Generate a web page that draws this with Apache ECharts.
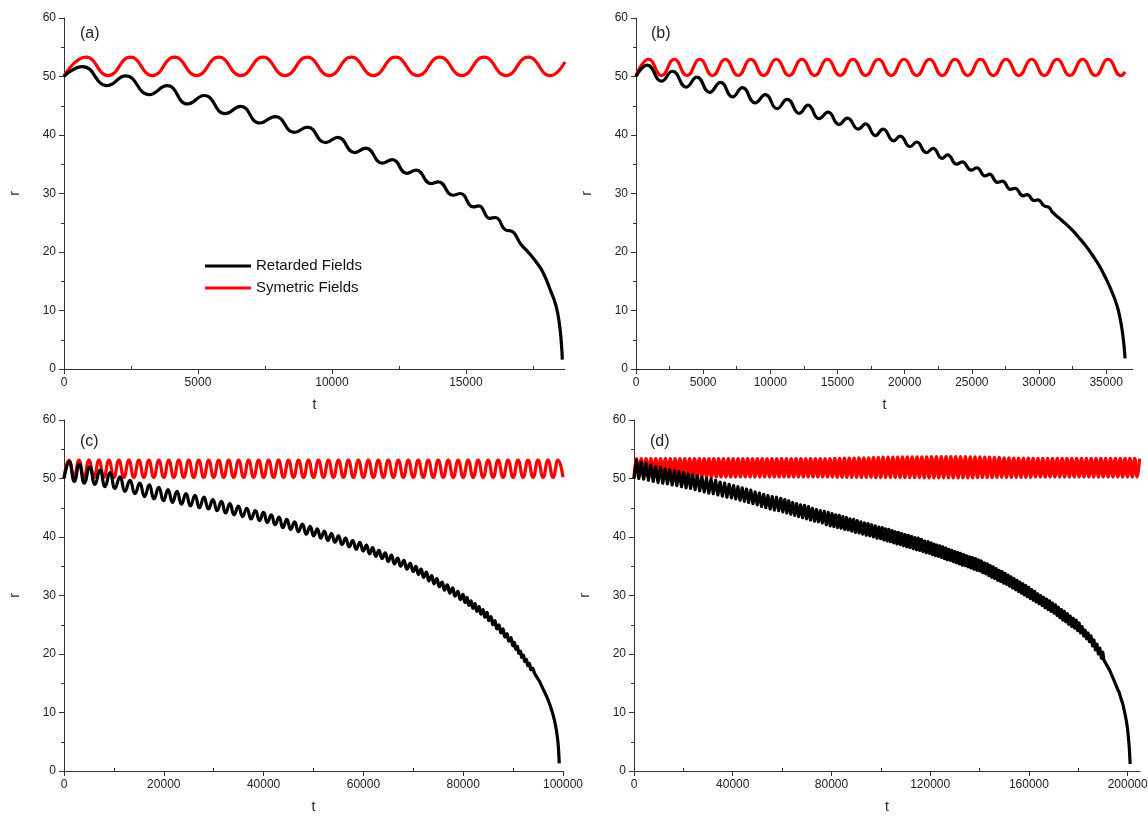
<!DOCTYPE html>
<html><head><meta charset="utf-8">
<script src="https://cdn.jsdelivr.net/npm/echarts@6/dist/echarts.min.js"></script>
<style>html,body{margin:0;padding:0;background:#fff}#chart{width:1148px;height:825px}</style>
</head><body><div id="chart"></div>
<script>
// ---------- data ----------
const seriesNames = ['Retarded Fields', 'Symetric Fields'];
const panelLabels = ['(a)', '(b)', '(c)', '(d)'];
const xMax = [18700, 37000, 100000, 205000];
const xMajor = [
  [0, 5000, 10000, 15000],
  [0, 5000, 10000, 15000, 20000, 25000, 30000, 35000],
  [0, 20000, 40000, 60000, 80000, 100000],
  [0, 40000, 80000, 120000, 160000, 200000]
];
const xMinor = [
  [2500, 7500, 12500, 17500],
  [2500, 7500, 12500, 17500, 22500, 27500, 32500],
  [10000, 30000, 50000, 70000, 90000],
  [20000, 60000, 100000, 140000, 180000]
];
const yTicks = [0, 10, 20, 30, 40, 50, 60];

// panel (a)
const redA = [[0,50.1],[825,53.3],[1650,50.15],[2475,53.3],[3300,50.15],[4125,53.3],[4950,50.15],[5775,53.3],[6600,50.15],[7425,53.3],[8250,50.15],[9075,53.3],[9900,50.15],[10725,53.3],[11550,50.15],[12375,53.3],[13200,50.15],[14025,53.3],[14850,50.15],[15675,53.3],[16500,50.15],[17325,53.3],[18150,50.15],[18700,52.5]];
const blackA = [[0,50.0],[690,51.7],[1620,48.45],[2300,50.1],[3180,46.9],[3850,48.45],[4610,45.3],[5230,46.75],[6020,43.65],[6590,44.9],[7300,42.05],[7890,43.15],[8600,40.45],[9085,41.35],[9760,38.7],[10220,39.6],[10850,37.0],[11265,37.75],[11880,35.2],[12250,35.8],[12800,33.45],[13145,34.0],[13695,31.7],[13970,32.0],[14520,29.7],[14795,30.0],[15275,27.7],[15480,27.9],[15895,25.75],[16100,25.9],[16510,23.7],[16690,23.6],[17060,21.3],[17340,19.9],[17640,18.2],[17880,16.5],[18160,13.4],[18365,10.8],[18500,7.4],[18570,4.0],[18600,1.6]];

// panel (b)
const redB = [[0,50.1],[950,52.95],[1900,50.15],[2850,52.95],[3800,50.15],[4750,52.95],[5700,50.15],[6650,52.95],[7600,50.15],[8550,52.95],[9500,50.15],[10450,52.95],[11400,50.15],[12350,52.95],[13300,50.15],[14250,52.95],[15200,50.15],[16150,52.95],[17100,50.15],[18050,52.95],[19000,50.15],[19950,52.95],[20900,50.15],[21850,52.95],[22800,50.15],[23750,52.95],[24700,50.15],[25650,52.95],[26600,50.15],[27550,52.95],[28500,50.15],[29450,52.95],[30400,50.15],[31350,52.95],[32300,50.15],[33250,52.95],[34200,50.15],[35150,52.95],[36100,50.15],[36400,50.8]];
const blackB = [[0,50.0],[850,51.95],[1900,49.2],[2713,50.9],[3744,48.2],[4530,49.9],[5480,47.3],[6294,49.0],[7190,46.5],[7922,48.1],[8871,45.5],[9631,46.9],[10499,44.5],[11259,46.1],[12154,43.7],[12805,45.1],[13619,42.8],[14297,43.9],[15111,41.8],[15735,42.9],[16549,41.0],[17092,41.9],[17824,39.9],[18394,41.0],[19181,39.0],[19669,39.8],[20402,38.0],[20890,38.8],[21623,37.0],[22111,37.7],[22789,36.0],[23196,36.6],[23874,35.0],[24281,35.4],[24960,34.0],[25367,34.4],[25990,33.0],[26316,33.3],[26913,31.9],[27266,32.1],[27890,30.7],[28216,30.9],[28813,29.6],[29111,29.8],[29650,28.8],[29900,28.9],[30450,27.8],[30700,27.7],[31000,26.8],[31500,25.8],[32000,24.8],[32500,23.7],[33000,22.4],[33500,21.0],[34000,19.4],[34500,17.6],[35000,15.4],[35500,12.8],[35800,10.9],[36000,9.1],[36200,6.5],[36330,4.0],[36409,1.8]];

// panel (c)
const redC = [[0,50.1],[1000,53.15],[2000,50.2],[3000,53.15],[4000,50.2],[5000,53.15],[6000,50.2],[7000,53.15],[8000,50.2],[9000,53.15],[10000,50.2],[11000,53.15],[12000,50.2],[13000,53.15],[14000,50.2],[15000,53.15],[16000,50.2],[17000,53.15],[18000,50.2],[19000,53.15],[20000,50.2],[21000,53.15],[22000,50.2],[23000,53.15],[24000,50.2],[25000,53.15],[26000,50.2],[27000,53.15],[28000,50.2],[29000,53.15],[30000,50.2],[31000,53.15],[32000,50.2],[33000,53.15],[34000,50.2],[35000,53.15],[36000,50.2],[37000,53.15],[38000,50.2],[39000,53.15],[40000,50.2],[41000,53.15],[42000,50.2],[43000,53.15],[44000,50.2],[45000,53.15],[46000,50.2],[47000,53.15],[48000,50.2],[49000,53.15],[50000,50.2],[51000,53.15],[52000,50.2],[53000,53.15],[54000,50.2],[55000,53.15],[56000,50.2],[57000,53.15],[58000,50.2],[59000,53.15],[60000,50.2],[61000,53.15],[62000,50.2],[63000,53.15],[64000,50.2],[65000,53.15],[66000,50.2],[67000,53.15],[68000,50.2],[69000,53.15],[70000,50.2],[71000,53.15],[72000,50.2],[73000,53.15],[74000,50.2],[75000,53.15],[76000,50.2],[77000,53.15],[78000,50.2],[79000,53.15],[80000,50.2],[81000,53.15],[82000,50.2],[83000,53.15],[84000,50.2],[85000,53.15],[86000,50.2],[87000,53.15],[88000,50.2],[89000,53.15],[90000,50.2],[91000,53.15],[92000,50.2],[93000,53.15],[94000,50.2],[95000,53.15],[96000,50.2],[97000,53.15],[98000,50.2],[99000,53.15],[100000,50.2]];
const blackC = [[0,50.0],[1070,52.9],[2070,49.5],[3070,52.5],[4070,49.2],[5150,52.0],[6200,49.0],[7220,51.45],[8220,48.6],[9220,51.0],[10220,48.3],[11220,50.3],[12220,47.8],[13220,49.7],[14220,47.4],[15180,49.2],[16140,46.9],[17090,48.9],[18040,46.5],[18990,48.5],[19940,46.2],[20840,48.1],[21740,45.9],[22640,47.8],[23540,45.6],[24440,47.4],[25340,45.3],[26240,47.1],[27140,45.0],[28040,46.8],[28940,44.8],[29840,46.4],[30690,44.5],[31540,46.1],[32390,44.1],[33240,45.7],[34090,43.8],[34940,45.3],[35790,43.5],[36640,44.9],[37490,43.1],[38340,44.5],[39190,42.8],[39970,44.2],[40750,42.5],[41530,43.8],[42310,42.1],[43090,43.4],[43870,41.6],[44650,43.0],[45430,41.3],[46210,42.6],[46990,40.9],[47770,42.2],[48550,40.5],[49330,41.8],[50040,40.2],[50750,41.4],[51460,39.8],[52170,41.0],[52880,39.4],[53590,40.6],[54300,39.1],[55010,40.2],[55720,38.7],[56430,39.8],[57140,38.3],[57850,39.4],[58560,37.9],[59270,39.1],[59980,37.6],[60605,38.6],[61230,37.1],[61855,38.2],[62480,36.7],[63105,37.7],[63730,36.3],[64355,37.3],[64980,35.8],[65605,36.9],[66230,35.4],[66855,36.4],[67480,35.0],[68105,36.0],[68730,34.5],[69355,35.5],[69980,34.1],[70505,35.0],[71030,33.6],[71555,34.5],[72080,33.1],[72605,34.0],[73130,32.5],[73655,33.4],[74180,32.0],[74705,32.9],[75230,31.5],[75755,32.3],[76280,30.9],[76805,31.8],[77330,30.4],[77855,31.3],[78380,29.9],[78905,30.7],[79430,29.3],[79955,30.2],[80355,28.8],[80755,29.7],[81155,28.3],[81555,29.1],[81955,27.8],[82355,28.6],[82755,27.3],[83155,28.1],[83555,26.8],[83955,27.6],[84355,26.3],[84755,27.1],[85155,25.7],[85555,26.4],[85955,25.0],[86355,25.7],[86755,24.3],[87155,25.0],[87555,23.6],[87955,24.3],[88355,22.9],[88755,23.5],[89155,22.2],[89555,22.8],[89955,21.4],[90255,22.0],[90555,20.8],[90855,21.3],[91155,20.1],[91455,20.5],[91755,19.4],[92055,19.8],[92355,18.7],[92655,19.1],[92955,18.0],[93255,18.4],[93555,17.3],[93855,17.6],[94300,16.7],[94800,16.0],[95300,15.3],[95800,14.4],[96300,13.5],[96800,12.6],[97300,11.5],[97800,10.2],[98300,8.6],[98700,6.8],[99000,4.8],[99150,3.0],[99250,1.3]];

// panel (d)
const redD = [[0,50.1],[980,53.4],[1960,50.25],[2940,53.4],[3920,50.25],[4900,53.4],[5880,50.25],[6860,53.4],[7840,50.25],[8820,53.4],[9800,50.25],[10780,53.4],[11760,50.25],[12740,53.4],[13720,50.25],[14700,53.4],[15680,50.25],[16660,53.4],[17640,50.25],[18620,53.4],[19600,50.25],[20580,53.4],[21560,50.25],[22540,53.4],[23520,50.25],[24500,53.4],[25480,50.25],[26460,53.4],[27440,50.25],[28420,53.4],[29400,50.25],[30380,53.4],[31360,50.25],[32340,53.4],[33320,50.25],[34300,53.4],[35280,50.25],[36260,53.4],[37240,50.25],[38220,53.4],[39200,50.25],[40180,53.4],[41160,50.25],[42140,53.4],[43120,50.25],[44100,53.4],[45080,50.25],[46060,53.4],[47040,50.25],[48020,53.4],[49000,50.25],[49980,53.4],[50960,50.25],[51940,53.4],[52920,50.25],[53900,53.4],[54880,50.25],[55860,53.4],[56840,50.25],[57820,53.4],[58800,50.25],[59780,53.4],[60760,50.25],[61740,53.4],[62720,50.25],[63700,53.4],[64680,50.25],[65660,53.4],[66640,50.25],[67620,53.4],[68600,50.25],[69580,53.4],[70560,50.25],[71540,53.4],[72520,50.25],[73500,53.4],[74480,50.25],[75460,53.4],[76440,50.25],[77420,53.4],[78400,50.25],[79380,53.4],[80360,50.25],[81340,53.45],[82320,50.2],[83300,53.45],[84280,50.2],[85260,53.5],[86240,50.2],[87220,53.5],[88200,50.2],[89180,53.5],[90160,50.2],[91140,53.55],[92120,50.2],[93100,53.55],[94080,50.2],[95060,53.55],[96040,50.2],[97020,53.6],[98000,50.15],[98980,53.6],[99960,50.15],[100940,53.65],[101920,50.15],[102900,53.65],[103880,50.15],[104860,53.65],[105840,50.15],[106820,53.65],[107800,50.15],[108780,53.7],[109760,50.15],[110740,53.7],[111720,50.15],[112700,53.7],[113680,50.15],[114660,53.7],[115640,50.15],[116620,53.7],[117600,50.1],[118580,53.7],[119560,50.1],[120540,53.75],[121520,50.1],[122500,53.75],[123480,50.1],[124460,53.75],[125440,50.1],[126420,53.75],[127400,50.1],[128380,53.75],[129360,50.1],[130340,53.75],[131320,50.1],[132300,53.75],[133280,50.1],[134260,53.75],[135240,50.1],[136220,53.7],[137200,50.1],[138180,53.7],[139160,50.15],[140140,53.7],[141120,50.15],[142100,53.65],[143080,50.15],[144060,53.65],[145040,50.15],[146020,53.6],[147000,50.2],[147980,53.6],[148960,50.2],[149940,53.55],[150920,50.2],[151900,53.55],[152880,50.2],[153860,53.5],[154840,50.2],[155820,53.5],[156800,50.2],[157780,53.5],[158760,50.2],[159740,53.5],[160720,50.2],[161700,53.45],[162680,50.25],[163660,53.45],[164640,50.25],[165620,53.45],[166600,50.25],[167580,53.45],[168560,50.25],[169540,53.45],[170520,50.25],[171500,53.45],[172480,50.25],[173460,53.45],[174440,50.25],[175420,53.45],[176400,50.25],[177380,53.45],[178360,50.25],[179340,53.45],[180320,50.25],[181300,53.45],[182280,50.25],[183260,53.45],[184240,50.25],[185220,53.45],[186200,50.25],[187180,53.45],[188160,50.25],[189140,53.45],[190120,50.25],[191100,53.45],[192080,50.25],[193060,53.45],[194040,50.25],[195020,53.45],[196000,50.25],[196980,53.45],[197960,50.25],[198940,53.45],[199920,50.25],[200900,53.45],[201880,50.25],[202860,53.45],[203840,50.25],[204820,53.4]];
const blackD = [[0,50.0],[975,53.1],[1950,50.0],[2925,52.8],[3900,49.9],[4875,52.6],[5850,49.7],[6825,52.3],[7800,49.5],[8775,52.0],[9750,49.3],[10700,51.9],[11650,49.2],[12600,51.6],[13550,49.1],[14500,51.5],[15450,48.9],[16400,51.3],[17350,48.8],[18300,51.2],[19250,48.6],[20170,51.0],[21090,48.4],[22010,50.8],[22930,48.3],[23850,50.6],[24770,48.1],[25690,50.5],[26610,47.9],[27530,50.2],[28450,47.7],[29370,50.0],[30290,47.5],[31210,49.9],[32130,47.4],[33050,49.7],[33970,47.2],[34890,49.4],[35810,47.0],[36730,49.2],[37650,46.8],[38570,49.0],[39490,46.7],[40360,48.8],[41230,46.5],[42100,48.6],[42970,46.3],[43840,48.4],[44710,46.1],[45580,48.2],[46450,45.9],[47320,48.0],[48190,45.7],[49060,47.7],[49930,45.5],[50800,47.5],[51670,45.2],[52540,47.3],[53410,45.0],[54280,47.1],[55150,44.8],[56020,46.9],[56890,44.6],[57760,46.8],[58630,44.5],[59500,46.6],[60300,44.3],[61100,46.4],[61900,44.1],[62700,46.2],[63500,43.9],[64300,45.9],[65100,43.7],[65900,45.7],[66700,43.5],[67500,45.5],[68300,43.3],[69100,45.4],[69900,43.1],[70700,45.2],[71500,42.9],[72300,44.9],[73100,42.7],[73900,44.7],[74700,42.6],[75500,44.5],[76300,42.4],[77100,44.4],[77900,42.1],[78700,44.2],[79500,41.9],[80230,44.0],[80960,41.8],[81690,43.8],[82420,41.6],[83150,43.7],[83880,41.5],[84610,43.5],[85340,41.3],[86070,43.3],[86800,41.2],[87530,43.1],[88260,41.0],[88990,43.0],[89720,40.8],[90450,42.8],[91180,40.7],[91910,42.6],[92640,40.5],[93370,42.4],[94100,40.3],[94830,42.3],[95560,40.2],[96290,42.1],[97020,40.0],[97750,41.9],[98480,39.8],[99210,41.7],[99940,39.7],[100600,41.6],[101260,39.5],[101920,41.4],[102580,39.3],[103240,41.3],[103900,39.2],[104560,41.1],[105220,39.0],[105880,40.9],[106540,38.8],[107200,40.8],[107860,38.7],[108520,40.6],[109180,38.5],[109840,40.4],[110500,38.3],[111160,40.3],[111820,38.2],[112480,40.1],[113140,38.0],[113800,39.9],[114460,37.8],[115120,39.8],[115780,37.7],[116440,39.6],[117100,37.5],[117760,39.3],[118420,37.3],[119080,39.2],[119740,37.2],[120340,39.0],[120940,37.0],[121540,38.8],[122140,36.8],[122740,38.6],[123340,36.7],[123940,38.5],[124540,36.5],[125140,38.3],[125740,36.3],[126340,38.1],[126940,36.1],[127540,37.9],[128140,36.0],[128740,37.7],[129340,35.8],[129940,37.5],[130540,35.6],[131140,37.4],[131740,35.4],[132340,37.2],[132940,35.2],[133540,37.0],[134140,35.1],[134740,36.8],[135340,34.9],[135940,36.6],[136540,34.7],[137140,36.5],[137740,34.5],[138340,36.3],[138940,34.3],[139540,36.1],[140140,34.2],[140740,35.9],[141340,33.9],[141940,35.6],[142540,33.7],[143140,35.4],[143740,33.4],[144340,35.1],[144940,33.1],[145540,34.9],[146140,32.9],[146740,34.6],[147340,32.6],[147940,34.3],[148540,32.4],[149140,34.1],[149740,32.1],[150340,33.8],[150940,31.9],[151540,33.5],[152140,31.6],[152740,33.2],[153340,31.3],[153940,32.9],[154540,31.0],[155140,32.6],[155740,30.7],[156340,32.3],[156940,30.4],[157540,32.0],[158140,30.1],[158740,31.7],[159340,29.8],[159940,31.4],[160540,29.5],[161140,31.0],[161740,29.2],[162340,30.7],[162940,28.9],[163540,30.3],[164140,28.6],[164740,30.0],[165340,28.3],[165940,29.7],[166540,27.9],[167140,29.4],[167740,27.6],[168340,29.1],[168940,27.3],[169540,28.7],[170140,27.0],[170740,28.4],[171340,26.6],[171940,28.0],[172540,26.2],[173140,27.6],[173740,25.8],[174340,27.3],[174940,25.5],[175540,26.9],[176140,25.1],[176740,26.5],[177340,24.7],[177940,26.1],[178540,24.4],[179140,25.8],[179740,24.0],[180340,25.3],[180940,23.6],[181540,24.7],[182140,23.1],[182740,24.1],[183340,22.6],[183940,23.6],[184540,22.1],[185140,23.1],[185740,21.4],[186340,22.4],[186940,20.7],[187540,21.7],[188140,20.0],[188740,21.0],[189340,19.3],[189940,20.3],[190340,19.0],[190740,19.3],[191140,18.4],[191540,18.7],[191940,17.8],[192340,18.1],[192740,17.2],[193140,17.4],[193540,16.4],[193940,16.6],[194340,15.6],[194740,15.8],[195140,14.8],[195540,15.0],[195940,14.0],[196500,13.5],[197200,12.5],[198000,11.5],[198800,10.0],[199500,8.5],[200000,7.0],[200300,5.8],[200700,3.8],[201000,1.2]];

const blackData = [blackA, blackB, blackC, blackD];
const redData = [redA, redB, redC, redD];
const blackSmooth = [true, true, true, false];

// ---------- layout / style ----------
const FONT = '"Liberation Sans", Arial, sans-serif';
const grids = [
  {left: 64, top: 18, width: 501, height: 351},
  {left: 636, top: 18, width: 497, height: 351},
  {left: 64, top: 420, width: 499, height: 351},
  {left: 634, top: 420, width: 506, height: 351}
];
const labelPos = [[80, 26], [651, 26], [80, 434], [650, 434]];
const axisColor = '#333';
const textColor = '#222';

const xAxes = [], yAxes = [], series = [], graphics = [];
grids.forEach((g, i) => {
  xAxes.push({
    type: 'value', gridIndex: i, min: 0, max: xMax[i],
    name: 't', nameLocation: 'middle', nameGap: 29,
    nameTextStyle: {fontFamily: FONT, fontSize: 14, color: textColor},
    axisLine: {show: true, onZero: false, lineStyle: {color: axisColor, width: 1}},
    axisTick: {show: true, customValues: xMajor[i], length: 5, inside: false, lineStyle: {color: axisColor}},
    axisLabel: {show: true, customValues: xMajor[i], formatter: v => String(v), fontFamily: FONT, fontSize: 12, color: textColor, margin: 8},
    splitLine: {show: false}, minorTick: {show: false}
  });
  xAxes.push({
    type: 'value', gridIndex: i, min: 0, max: xMax[i],
    axisLine: {show: false},
    axisTick: {show: true, customValues: xMinor[i], length: 3, lineStyle: {color: axisColor}},
    axisLabel: {show: false}, splitLine: {show: false}
  });
  yAxes.push({
    type: 'value', gridIndex: i, min: 0, max: 60, interval: 10,
    name: 'r', nameLocation: 'middle', nameGap: 42,
    nameTextStyle: {fontFamily: FONT, fontSize: 14, color: textColor},
    axisLine: {show: true, onZero: false, lineStyle: {color: axisColor, width: 1}},
    axisTick: {show: true, length: 5, inside: false, lineStyle: {color: axisColor}},
    minorTick: {show: true, splitNumber: 2, length: 3, lineStyle: {color: axisColor}},
    axisLabel: {show: true, fontFamily: FONT, fontSize: 12, color: textColor, margin: 8},
    splitLine: {show: false}, minorSplitLine: {show: false}
  });
  series.push({
    name: seriesNames[1], type: 'line', xAxisIndex: 2 * i, yAxisIndex: i,
    data: redData[i], showSymbol: false, symbol: 'none', smooth: true,
    color: '#ff0000', lineStyle: {color: '#ff0000', width: 3.2}, z: 2
  });
  series.push({
    name: seriesNames[0], type: 'line', xAxisIndex: 2 * i, yAxisIndex: i,
    data: blackData[i], showSymbol: false, symbol: 'none', smooth: blackSmooth[i],
    color: '#000000', lineStyle: {color: '#000000', width: 3.2, join: 'round'}, z: 3
  });
  graphics.push({
    type: 'text', left: labelPos[i][0], top: labelPos[i][1],
    style: {text: panelLabels[i], font: '16px ' + FONT, fill: textColor}
  });
});

const chart = echarts.init(document.getElementById('chart'), null, {renderer: 'canvas'});
chart.setOption({
  animation: false,
  backgroundColor: '#ffffff',
  grid: grids.map(g => Object.assign({containLabel: false, outerBoundsMode: 'none'}, g)),
  xAxis: xAxes,
  yAxis: yAxes,
  series: series,
  graphic: graphics,
  legend: {
    data: [seriesNames[0], seriesNames[1]],
    orient: 'vertical', left: 200, top: 253,
    icon: 'rect', itemWidth: 46, itemHeight: 3, itemGap: 6,
    selectedMode: false,
    textStyle: {fontFamily: FONT, fontSize: 15, color: '#111', lineHeight: 16}
  },
  tooltip: {show: false}
});
</script>
</body></html>
